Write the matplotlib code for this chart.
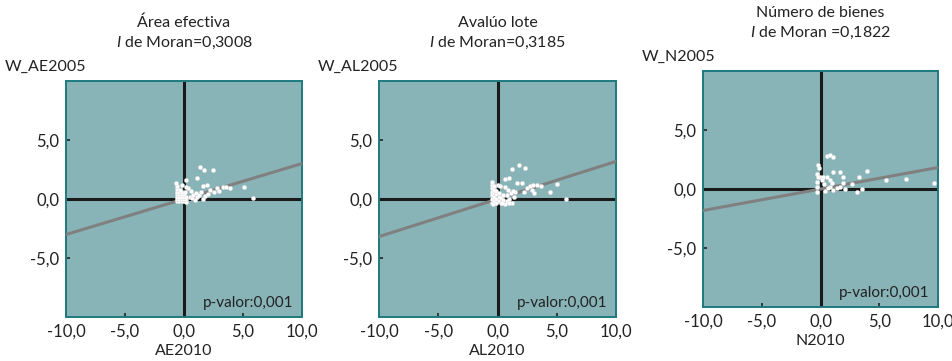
import matplotlib

matplotlib.use("Agg")
import matplotlib.pyplot as plt

plt.rcParams.update(
    {
        "font.family": ["Lato", "DejaVu Sans"],
        "mathtext.fontset": "custom",
        "mathtext.rm": "Lato",
        "mathtext.it": "Lato:italic",
        "font.size": 11.5,
    }
)

# ---------------------------------------------------------------------------
# Datos
# ---------------------------------------------------------------------------
titles = ["Área efectiva", "Avalúo lote", "Número de bienes"]
moran_txt = ["=0,3008", "=0,3185", " =0,1822"]
moran_i = [0.3008, 0.3185, 0.1822]
ylabels = ["W_AE2005", "W_AL2005", "W_N2005"]
xlabels = ["AE2010", "AL2010", "N2010"]
pvalor = "p-valor:0,001"

ae_x = [-0.6, -0.4, -0.2, 0.0, 0.2, -0.6, -0.4, -0.2, 0.0, 0.2,
        -0.6, -0.4, -0.2, 0.0, 0.2, -0.6, -0.4, -0.2, 0.0,
        -0.6, -0.4, -0.2, 0.1, -0.6, -0.3, 0.3, -0.6, -0.2, 0.2,
        -0.7, 0.17, 1.07, 0.5, 0.7, 0.8, 1.0, 1.1, 1.3, 1.4, 1.6,
        1.8, 2.0, 2.2, 2.5, 1.58, 1.92, 2.8, 3.0, 3.3, 3.6, 3.9,
        5.11, 5.82, 1.36, 1.72, 2.48, 0.6, 0.9]
ae_y = [-0.2, -0.2, -0.2, -0.2, -0.25, 0.0, 0.0, 0.0, 0.0, 0.0,
        0.2, 0.2, 0.2, 0.2, 0.2, 0.4, 0.4, 0.4, 0.4,
        0.6, 0.6, 0.6, 0.6, 0.85, 0.8, 0.9, 1.1, 1.2, 1.0,
        1.36, 1.58, 1.75, 0.2, 0.05, 0.35, 0.5, 0.15, 0.3, 0.6, 0.0,
        0.25, 0.45, 0.8, 0.6, 1.1, 1.19, 0.95, 0.7, 1.04, 1.05, 0.95,
        1.04, 0.06, 2.74, 2.5, 2.46, 0.7, -0.1]

al_x = [-0.5, -0.5, -0.5, -0.5, -0.5, -0.5, -0.5, -0.3, -0.3, -0.3,
        -0.3, -0.3, -0.1, -0.1, -0.1, -0.1, 0.1, 0.1, 0.1, 0.3,
        0.3, 0.5, 0.5, 0.6, 0.8, 0.8, 1.0, 1.1, 1.2, 1.4, 1.5,
        0.0, 0.2, 0.9, 1.3, 0.6, 1.0, 1.67, 2.04, 2.2, 2.5, 2.74,
        3.0, 3.3, 3.64, 2.9, 3.1, 4.43, 5.05, 5.8, 0.6, 1.0,
        1.25, 1.84, 2.35, -0.4, 0.4]
al_y = [-0.3, 0.0, 0.3, 0.6, 0.9, 1.2, 1.4, -0.2, 0.2, 0.5,
        0.8, 1.1, -0.3, 0.0, 0.4, 0.7, -0.2, 0.2, 0.5, -0.3,
        0.1, -0.1, 0.3, 1.0, -0.2, 0.3, 0.0, 0.5, -0.3, 0.2, 0.6,
        1.2, 1.1, 0.8, 0.7, 1.7, 1.8, 1.33, 1.33, 0.6, 0.9, 1.1,
        1.15, 1.15, 1.1, 0.8, 0.5, 0.62, 1.24, 0.0, -0.4, -0.3,
        2.54, 2.9, 2.6, -0.4, -0.35]

n_x = [0.58, 0.81, 1.04, -0.24, -0.13, 1.09, 1.66, 3.93, -0.06, 0.2,
       0.58, 1.9, 3.3, 5.57, 7.28, 9.66, -0.3, -0.3, -0.3, 0.38,
       0.81, 1.09, 1.38, 1.66, 1.94, 2.09, 2.66, 3.08, 3.56, 0.81,
       0.95, -0.3, -0.2, 0.1, 0.3, 0.6]
n_y = [2.77, 2.88, 2.69, 2.0, 1.8, 1.45, 1.45, 1.54, 1.0, 1.0,
       1.0, 1.0, 1.0, 0.73, 0.82, 0.53, 0.61, 0.19, -0.23, -0.14,
       0.19, -0.08, 0.11, 0.19, 0.48, -0.03, 0.39, -0.28, -0.03, 0.76,
       0.53, 1.3, 1.05, 0.8, 0.4, 0.1]

xs = [ae_x, al_x, n_x]
ys = [ae_y, al_y, n_y]

xticks = [-10, -5, 0, 5, 10]
yticks = [-5, 0, 5]

FACE = "#88b4b8"
SPINE = "#1d7a7e"
LINE = "#808080"
TXT = "#222222"

# posiciones de los paneles (fracción de figura)
boxes = [
    [0.0693, 0.1219, 0.2476, 0.6537],
    [0.3977, 0.1219, 0.2487, 0.6537],
    [0.7377, 0.1496, 0.2466, 0.6537],
]


def fmt(v):
    return f"{v:.1f}".replace(".", ",")


fig = plt.figure(figsize=(9.53, 3.61), dpi=100)

for i in range(3):
    ax = fig.add_axes(boxes[i])
    ax.set_facecolor(FACE)
    for sp in ax.spines.values():
        sp.set_color(SPINE)
        sp.set_linewidth(1.4)
    ax.set_xlim(-10, 10)
    ax.set_ylim(-10, 10)

    ax.axhline(0, color="#1a1a1a", lw=2.2, zorder=2)
    ax.axvline(0, color="#1a1a1a", lw=2.2, zorder=2)
    ax.plot([-10, 10], [-10 * moran_i[i], 10 * moran_i[i]],
            color=LINE, lw=2.2, zorder=3)
    ax.scatter(xs[i], ys[i], s=9, c="white", edgecolors="#dddddd",
               linewidths=0.3, zorder=4)

    ax.set_xticks(xticks)
    ax.set_xticklabels([fmt(v) for v in xticks])
    ax.set_yticks(yticks)
    ax.set_yticklabels([fmt(v) for v in yticks])
    ax.tick_params(direction="in", length=3, width=1.2, color=TXT,
                   labelsize=12, labelcolor=TXT, pad=5)

    ax.text(0.965, 0.03, pvalor, transform=ax.transAxes, ha="right",
            va="bottom", fontsize=11, color=TXT)

    b = boxes[i]
    cx = b[0] + b[2] / 2
    top = b[1] + b[3]
    fig.text(cx, top + 0.161, titles[i], ha="center", va="center",
             color=TXT)
    fig.text(cx, top + 0.105, r"$\mathit{I}$ de Moran" + moran_txt[i],
             ha="center", va="center", color=TXT)
    fig.text(b[0] - 0.064, top + 0.039, ylabels[i], ha="left",
             va="center", color=TXT)
    fig.text(cx, b[1] - 0.095, xlabels[i], ha="center", va="center",
             color=TXT)

fig.savefig("out.png", dpi=100)
